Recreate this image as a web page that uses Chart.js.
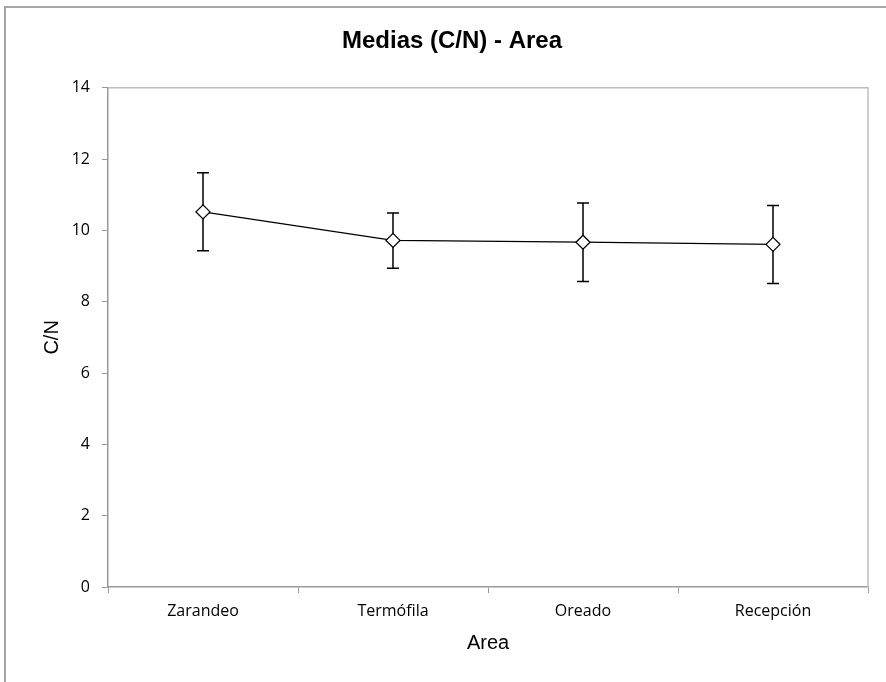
<!DOCTYPE html>
<html lang="es">
<head>
    <meta charset="UTF-8">
    <title>Medias (C/N) - Area</title>
    <script src="https://cdn.jsdelivr.net/npm/chart.js@4"></script>
    <style>
        body { margin: 0; background: white; }
        #caja { width: 886px; height: 682px; position: relative; }
    </style>
</head>
<body>
    <div id="caja">
        <canvas id="grafico"></canvas>
    </div>

    <script>
        // datos
        const areas = ['Zarandeo', 'Termófila', 'Oreado', 'Recepción'];
        const medias = [10.52, 9.72, 9.67, 9.61];
        const limiteSup = [11.62, 10.49, 10.77, 10.70];
        const limiteInf = [9.43, 8.94, 8.57, 8.51];
        const ticksY = [0, 2, 4, 6, 8, 10, 12, 14];

        // marco exterior (solo se ve arriba y a la izquierda)
        const marco = {
            id: 'marco',
            beforeDraw(chart) {
                const ctx = chart.ctx;
                ctx.save();
                ctx.strokeStyle = '#a6a6a6';
                ctx.lineWidth = 2;
                ctx.beginPath();
                ctx.moveTo(5, 682);
                ctx.lineTo(5, 7);
                ctx.lineTo(886, 7);
                ctx.stroke();
                ctx.restore();
            }
        };

        // borde del area de trazado
        const bordeArea = {
            id: 'bordeArea',
            beforeDatasetsDraw(chart) {
                const a = chart.chartArea;
                const ctx = chart.ctx;
                ctx.save();
                ctx.strokeStyle = '#bfbfbf';
                ctx.lineWidth = 1.5;
                ctx.beginPath();
                ctx.moveTo(a.left, a.top);
                ctx.lineTo(a.right, a.top);
                ctx.lineTo(a.right, a.bottom);
                ctx.stroke();
                ctx.restore();
            }
        };

        // barras de error
        const barrasError = {
            id: 'barrasError',
            beforeDatasetsDraw(chart) {
                const ctx = chart.ctx;
                const y = chart.scales.y;
                const meta = chart.getDatasetMeta(0);
                ctx.save();
                ctx.strokeStyle = '#000';
                ctx.lineWidth = 1.5;
                meta.data.forEach(function (p, i) {
                    const yS = y.getPixelForValue(limiteSup[i]);
                    const yI = y.getPixelForValue(limiteInf[i]);
                    ctx.beginPath();
                    ctx.moveTo(p.x, yS);
                    ctx.lineTo(p.x, yI);
                    ctx.moveTo(p.x - 6, yS);
                    ctx.lineTo(p.x + 6, yS);
                    ctx.moveTo(p.x - 6, yI);
                    ctx.lineTo(p.x + 6, yI);
                    ctx.stroke();
                });
                ctx.restore();
            }
        };

        const ctx = document.getElementById('grafico').getContext('2d');
        const miGrafico = new Chart(ctx, {
            type: 'line',
            data: {
                labels: areas,
                datasets: [{
                    label: 'C/N',
                    data: medias,
                    borderColor: '#000',
                    borderWidth: 1.3,
                    pointStyle: 'rectRot',
                    pointRadius: 7,
                    pointBackgroundColor: '#fff',
                    pointBorderColor: '#000',
                    pointBorderWidth: 1.3,
                    tension: 0
                }]
            },
            options: {
                responsive: true,
                maintainAspectRatio: false,
                animation: false,
                layout: { padding: { left: 36, right: 18, top: 0, bottom: 0 } },
                plugins: {
                    legend: { display: false },
                    tooltip: { enabled: false },
                    title: {
                        display: true,
                        text: 'Medias (C/N) - Area',
                        color: '#000',
                        font: { family: 'Liberation Sans', size: 24, weight: 'bold' },
                        padding: { top: 27, bottom: 32 }
                    }
                },
                scales: {
                    x: {
                        offset: true,
                        afterFit(s) { s.height = 95; },
                        grid: {
                            offset: true,
                            drawOnChartArea: false,
                            drawTicks: true,
                            tickLength: 6,
                            color: '#999'
                        },
                        border: { color: '#999', width: 1.5 },
                        ticks: {
                            color: '#000',
                            padding: 9,
                            font: { family: 'Open Sans', size: 16 }
                        },
                        title: {
                            display: true,
                            text: 'Area',
                            color: '#000',
                            font: { family: 'Liberation Sans', size: 20 },
                            padding: { top: 0, bottom: 27 }
                        }
                    },
                    y: {
                        min: 0,
                        max: 14,
                        afterFit(s) { s.width = 72; },
                        afterBuildTicks(s) { s.ticks = ticksY.map(v => ({ value: v })); },
                        grid: {
                            drawOnChartArea: false,
                            drawTicks: true,
                            tickLength: 6,
                            color: '#999'
                        },
                        border: { color: '#999', width: 1.5 },
                        ticks: {
                            color: '#000',
                            padding: 12,
                            font: { family: 'Open Sans', size: 16 }
                        },
                        title: {
                            display: true,
                            text: 'C/N',
                            color: '#000',
                            font: { family: 'Liberation Sans', size: 20 },
                            padding: { top: 4, bottom: 0 }
                        }
                    }
                }
            },
            plugins: [marco, bordeArea, barrasError]
        });
    </script>
</body>
</html>
